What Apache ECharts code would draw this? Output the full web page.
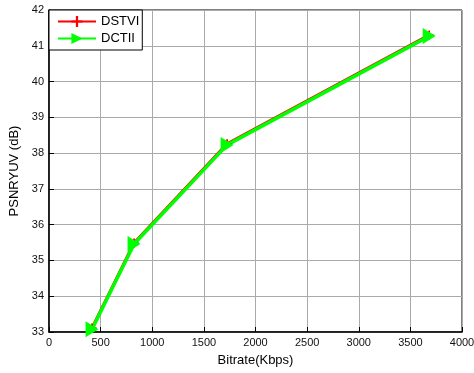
<!DOCTYPE html>
<html>
<head>
<meta charset="utf-8">
<script src="https://cdn.jsdelivr.net/npm/echarts@6/dist/echarts.min.js"></script>
<style>
  html, body { margin: 0; padding: 0; background: #fff; }
  #chart { width: 474px; height: 373px; }
</style>
</head>
<body>
<div id="chart"></div>
<script>
// bitrate (Kbps) and PSNR YUV (dB)
const bitrate = [417, 824, 1725, 3682];
const psnrDSTVI = [33.11, 35.49, 38.26, 41.30];
const psnrDCTII = [33.08, 35.46, 38.23, 41.27];
const seriesNames = ["DSTVI", "DCTII"];

const font = "Liberation Sans, Arial, sans-serif";
const chart = echarts.init(document.getElementById("chart"));

const option = {
  animation: false,
  textStyle: { fontFamily: font },
  grid: {
    left: 49, right: 12, top: 10, bottom: 41,
    outerBoundsMode: "none",
    containLabel: false,
    show: true,
    borderColor: "#000",
    borderWidth: 1,
    backgroundColor: "#fff"
  },
  legend: {
    orient: "vertical",
    left: 49, top: 10,
    padding: [5, 3, 5, 8],
    itemWidth: 38, itemHeight: 14, itemGap: 4,
    backgroundColor: "#fff",
    borderColor: "#000",
    borderWidth: 1,
    borderRadius: 0,
    textStyle: { fontSize: 13, color: "#000", fontFamily: font },
    data: seriesNames
  },
  xAxis: {
    type: "value",
    min: 0, max: 4000, interval: 500,
    name: "Bitrate(Kbps)",
    nameLocation: "middle",
    nameGap: 22,
    nameTextStyle: { fontSize: 13, color: "#000" },
    axisLine: { lineStyle: { color: "#000", width: 1.5 } },
    axisTick: { inside: true, length: 5, lineStyle: { color: "#000" } },
    axisLabel: { fontSize: 11, color: "#111", margin: 5, formatter: (v) => String(v) },
    splitLine: { show: true, lineStyle: { color: "#aaa", width: 1 } }
  },
  yAxis: {
    type: "value",
    min: 33, max: 42, interval: 1,
    name: "PSNRYUV (dB)",
    nameLocation: "middle",
    nameGap: 26,
    nameTextStyle: { fontSize: 13, color: "#000" },
    axisLine: { show: true, lineStyle: { color: "#000", width: 1.5 } },
    axisTick: { show: true, inside: true, length: 5, lineStyle: { color: "#000" } },
    axisLabel: { fontSize: 11, color: "#111", margin: 5 },
    splitLine: { show: true, lineStyle: { color: "#aaa", width: 1 } }
  },
  series: [
    {
      name: seriesNames[0],
      type: "line",
      data: bitrate.map((b, i) => [b, psnrDSTVI[i]]),
      color: "#ff0000",
      lineStyle: { width: 3, color: "#ff0000" },
      symbol: "path://M0,4H10V6H0Z M4,0H6V10H4Z",
      symbolSize: 9,
      itemStyle: { color: "#ff0000" }
    },
    {
      name: seriesNames[1],
      type: "line",
      data: bitrate.map((b, i) => [b, psnrDCTII[i]]),
      color: "#00ff00",
      lineStyle: { width: 3.5, color: "#00ff00" },
      symbol: "triangle",
      symbolRotate: -90,
      symbolSize: [16, 13],
      itemStyle: { color: "#00ff00" }
    }
  ]
};

chart.setOption(option);
</script>
</body>
</html>
